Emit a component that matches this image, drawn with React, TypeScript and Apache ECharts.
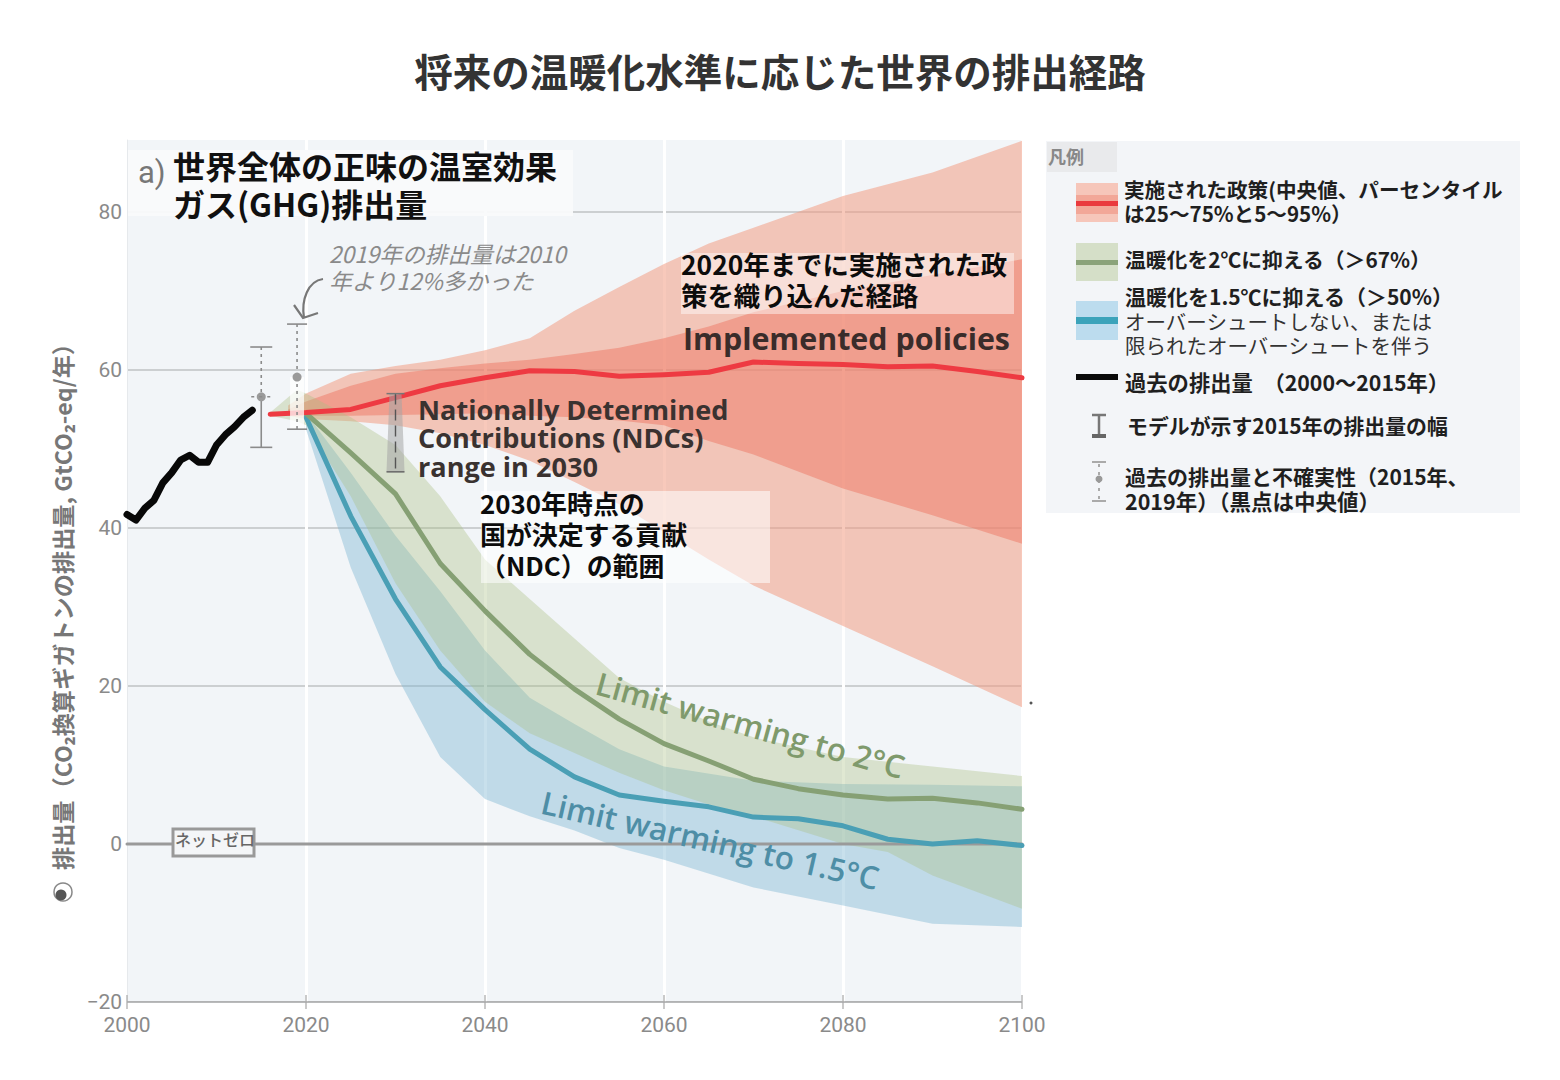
import React, { useEffect, useRef } from "react";
import * as echarts from "echarts";

const JP = '"Noto Sans CJK JP", "Noto Sans", sans-serif';
const EN = '"Open Sans", "Noto Sans", sans-serif';

// ---------- data ----------
const historyYears = [2000, 2001, 2002, 2003, 2004, 2005, 2006, 2007, 2008, 2009, 2010, 2011, 2012, 2013, 2014];
const historyValues = [41.7, 41.0, 42.5, 43.5, 45.7, 47.0, 48.6, 49.2, 48.3, 48.3, 50.5, 51.8, 52.8, 54.0, 54.9];

const policyYears = [2018, 2020, 2025, 2030, 2035, 2040, 2045, 2050, 2055, 2060, 2065, 2070, 2080, 2090, 2100];
const policyOuterHigh = [55.5, 57, 59.5, 60.5, 61.3, 62.5, 64, 67.5, 70.5, 73.4, 76, 78, 82, 85, 89];
const policyOuterLow = [54.2, 53.8, 53.5, 53, 52, 50.5, 48.5, 45.8, 43, 39.5, 36, 32.7, 27.6, 22.5, 17.3];
const policyInnerHigh = [55, 56, 58, 59.5, 60.2, 60.8, 61.3, 62, 62.8, 64, 65.5, 67.3, 70, 72, 74];
const policyInnerLow = [54.4, 54.2, 54.2, 54.3, 54.4, 54.5, 54.2, 54, 53.6, 53, 51, 49.3, 45, 41.6, 38];
const policyMedianYears = [2016, 2020, 2025, 2030, 2035, 2040, 2045, 2050, 2055, 2060, 2065, 2070, 2075, 2080, 2085, 2090, 2095, 2100];
const policyMedian = [54.4, 54.6, 55, 56.5, 58, 59, 59.9, 59.8, 59.2, 59.4, 59.7, 61, 60.8, 60.7, 60.4, 60.5, 59.8, 59];

const greenYears = [2016, 2019, 2020, 2025, 2030, 2035, 2040, 2045, 2050, 2055, 2060, 2065, 2070, 2080, 2085, 2090, 2100];
const greenHigh = [54.6, 57.5, 57, 54, 50.5, 44, 36, 31, 26, 21, 18, 15.5, 13.5, 11, 10.4, 9.8, 8.6];
const greenLow = [54.2, 53.5, 53, 44, 33, 24.5, 18, 14, 11.5, 9, 6.8, 5, 3.5, 0, -1, -4, -8.2];
const greenMedianYears = [2020, 2025, 2030, 2035, 2040, 2045, 2050, 2055, 2060, 2065, 2070, 2075, 2080, 2085, 2090, 2095, 2100];
const greenMedian = [54.5, 49.5, 44.3, 35.5, 29.5, 24, 19.6, 15.8, 12.7, 10.5, 8.2, 7, 6.2, 5.7, 5.8, 5.2, 4.4];

const blueYears = [2020, 2025, 2030, 2035, 2040, 2045, 2050, 2055, 2060, 2070, 2080, 2090, 2100];
const blueHigh = [54.5, 47, 39, 32, 24.5, 18.5, 15.2, 12, 9.8, 8, 7.6, 7.5, 7.3];
const blueLow = [52.5, 35, 21.5, 11, 5.7, 3.5, 1.7, -0.5, -2, -5.5, -7.8, -10.1, -10.5];
const blueMedianYears = [2020, 2025, 2030, 2035, 2040, 2045, 2050, 2055, 2060, 2065, 2070, 2075, 2080, 2085, 2090, 2095, 2100];
const blueMedian = [54, 41.5, 31, 22.4, 17, 12, 8.5, 6.2, 5.4, 4.7, 3.4, 3.2, 2.3, 0.6, 0, 0.4, -0.2];

const netZeroYears = [2000, 2100];
const netZeroValues = [0, 0];

// [year, low, mid, high]
const whisker2015 = [2015, 50.2, 56.6, 62.9];
const whisker2019 = [2019, 52.5, 59.1, 65.8];
const ndcRange = [2030, 47.1, 57];

const titleText = "将来の温暖化水準に応じた世界の排出経路";
const yAxisTitle = "排出量（CO₂換算ギガトンの排出量, GtCO₂-eq/年）";
const panelTitle = ["世界全体の正味の温室効果", "ガス(GHG)排出量"];
const noteLines = ["2019年の排出量は2010", "年より12%多かった"];
const policyNote = ["2020年までに実施された政", "策を織り込んだ経路"];
const ndcEnglish = ["Nationally Determined", "Contributions (NDCs)", "range in 2030"];
const ndcNote = ["2030年時点の", "国が決定する貢献", "（NDC）の範囲"];

// ---------- helpers ----------
const zip = (xs: number[], ys: number[]) => xs.map((x, i) => [x, ys[i]]);

function band(name: string, years: number[], low: number[], high: number[], fill: string, z: number) {
  return {
    type: "custom",
    name,
    z,
    silent: true,
    coordinateSystem: "cartesian2d",
    data: years.map((y, i) => [y, low[i], high[i]]),
    encode: { x: 0, y: [1, 2] },
    renderItem: (params: any, api: any) => {
      if (params.dataIndex !== 0) return null;
      const top = years.map((y, i) => api.coord([y, high[i]]));
      const bottom = years.map((y, i) => api.coord([y, low[i]])).reverse();
      return { type: "polygon", shape: { points: [...top, ...bottom] }, style: { fill } };
    },
  };
}

function line(name: string, xs: number[], ys: number[], color: string, width: number, z: number) {
  return {
    type: "line",
    name,
    z,
    silent: true,
    showSymbol: false,
    data: zip(xs, ys),
    lineStyle: { color, width, cap: "round", join: "round" },
    itemStyle: { color },
  };
}

function whiskers() {
  const c = "#8b8b8b";
  return {
    type: "custom",
    name: "whiskers",
    z: 6,
    silent: true,
    coordinateSystem: "cartesian2d",
    data: [whisker2015, whisker2019],
    encode: { x: 0, y: [1, 2, 3] },
    renderItem: (params: any, api: any) => {
      const yr = api.value(0);
      const [x, low] = api.coord([yr, api.value(1)]);
      const [, mid] = api.coord([yr, api.value(2)]);
      const [, high] = api.coord([yr, api.value(3)]);
      const is2015 = params.dataIndex === 0;
      const dash = { stroke: c, lineWidth: 1.6, lineDash: [3, 4] };
      const solid = { stroke: c, lineWidth: 1.6 };
      const capW = is2015 ? 11 : 10;
      const children: any[] = [];
      if (!is2015) {
        children.push({ type: "rect", shape: { x: x - 7, y: mid, width: 14, height: low - mid }, style: { fill: "rgba(255,255,255,0.75)" } });
      }
      children.push(
        { type: "line", shape: { x1: x, y1: high, x2: x, y2: mid }, style: dash },
        { type: "line", shape: { x1: x, y1: mid, x2: x, y2: low }, style: is2015 ? solid : dash },
        { type: "line", shape: { x1: x - capW, y1: high, x2: x + capW, y2: high }, style: solid },
        { type: "line", shape: { x1: x - capW, y1: low, x2: x + capW, y2: low }, style: solid },
        { type: "circle", shape: { cx: x, cy: mid, r: 4.5 }, style: { fill: "#9a9a9a" } },
      );
      if (is2015) {
        children.push({ type: "line", shape: { x1: x - 10, y1: mid, x2: x + 10, y2: mid }, style: { stroke: c, lineWidth: 1.6, lineDash: [3, 5] } });
      }
      return { type: "group", children };
    },
  };
}

function ndcBar() {
  return {
    type: "custom",
    name: "NDC range",
    z: 6,
    silent: true,
    coordinateSystem: "cartesian2d",
    data: [ndcRange],
    encode: { x: 0, y: [1, 2] },
    renderItem: (_: any, api: any) => {
      const yr = api.value(0);
      const [x, low] = api.coord([yr, api.value(1)]);
      const [, high] = api.coord([yr, api.value(2)]);
      return {
        type: "group",
        children: [
          { type: "polygon", shape: { points: [[x - 6, high], [x + 6, high], [x + 9, low], [x - 9, low]] }, style: { fill: "rgba(165,165,165,0.55)" } },
          { type: "line", shape: { x1: x, y1: high, x2: x, y2: low }, style: { stroke: "#555", lineWidth: 1.4, lineDash: [11, 5] } },
          { type: "line", shape: { x1: x - 9, y1: high, x2: x + 9, y2: high }, style: { stroke: "#777", lineWidth: 1.5 } },
          { type: "line", shape: { x1: x - 9, y1: low, x2: x + 9, y2: low }, style: { stroke: "#666", lineWidth: 1.5 } },
        ],
      };
    },
  };
}

function txt(x: number, y: number, text: string, size: number, fill: string, weight: any = "bold", extra: any = {}, family = JP) {
  const { rotation, z, ...style } = extra;
  return {
    type: "text",
    x,
    y,
    rotation: rotation ?? 0,
    z: z ?? 30,
    silent: true,
    style: { text, fontSize: size, fontFamily: family, fontWeight: weight, fill, textVerticalAlign: "middle", verticalAlign: "middle", textAlign: "left", align: "left", ...style },
  };
}
const box = (x: number, y: number, w: number, h: number, fill: string, z = 20, extra: any = {}) => ({
  type: "rect", z, silent: true, shape: { x, y, width: w, height: h }, style: { fill, ...extra },
});
const seg = (x1: number, y1: number, x2: number, y2: number, stroke: string, lineWidth: number, z = 30, extra: any = {}) => ({
  type: "line", z, silent: true, shape: { x1, y1, x2, y2 }, style: { stroke, lineWidth, ...extra },
});

function graphics() {
  const g: any[] = [];
  // title
  g.push({ ...txt(780, 70, titleText, 38.5, "#333333", "bold", { textAlign: "center", align: "center" }) });
  // panel title
  g.push(box(128, 150, 445, 66, "rgba(249,250,251,0.96)", 18));
  g.push(txt(138, 172, "a)", 31, "#777777", "normal", {}, '"Roboto", sans-serif'));
  panelTitle.forEach((t, i) => g.push(txt(173, 165 + i * 38, t, 32, "#111111")));
  // 2019 note + arrow
  noteLines.forEach((t, i) => g.push(txt(329, 253 + i * 27, t, 22.7, "#8a8a8a", "normal", { fontStyle: "italic" })));
  g.push({ type: "bezierCurve", z: 30, silent: true, shape: { x1: 323, y1: 279, x2: 304, y2: 318, cpx1: 308, cpy1: 281, cpx2: 301, cpy2: 300 }, style: { stroke: "#777", lineWidth: 2.2, fill: "none" } });
  g.push({ type: "polyline", z: 30, silent: true, shape: { points: [[294, 305], [303, 318], [318, 313]] }, style: { stroke: "#777", lineWidth: 2.2, fill: "none" } });
  // implemented policies
  g.push(box(681, 253, 333, 61, "rgba(255,255,255,0.45)"));
  policyNote.forEach((t, i) => g.push(txt(681, 263 + i * 31, t, 26.4, "#0c0c0c")));
  g.push(txt(683, 338, "Implemented policies", 30.4, "#3a2c2a", "bold", {}, EN));
  // NDC english
  ndcEnglish.forEach((t, i) => g.push(txt(418, 409 + i * 28.5, t, 27.1, "#3a3230", "bold", {}, EN)));
  // NDC note
  g.push(box(481, 491, 289, 92, "rgba(255,255,255,0.55)"));
  ndcNote.forEach((t, i) => g.push(txt(480, 502 + i * 31, t, 25.9, "#0c0c0c")));
  // path labels
  g.push(txt(597, 682, "Limit warming to 2°C", 31.5, "#7f9a6c", "600", { rotation: -0.27 }, EN));
  g.push(txt(542, 801, "Limit warming to 1.5°C", 31.5, "#4e8ea6", "600", { rotation: -0.225 }, EN));
  // net-zero tag
  g.push(box(173, 829, 81, 27, "#f4f6f8", 30, { stroke: "#999999", lineWidth: 3 }));
  g.push(txt(175, 839, "ネットゼロ", 16, "#666666", "500", { z: 31 }));
  // y axis title
  g.push(txt(62, 601, yAxisTitle, 23.2, "#777777", "bold", { rotation: Math.PI / 2, textAlign: "center", align: "center" }));
  g.push({ type: "circle", z: 30, silent: true, shape: { cx: 63, cy: 892, r: 9 }, style: { fill: "#ffffff", stroke: "#888", lineWidth: 1.5 } });
  g.push({ type: "circle", z: 31, silent: true, shape: { cx: 61, cy: 895, r: 5.5 }, style: { fill: "#555" } });
  g.push({ type: "circle", z: 30, silent: true, shape: { cx: 1031, cy: 703, r: 1.5 }, style: { fill: "#555" } });

  // legend panel
  g.push(box(1046, 141, 474, 372, "#f3f5f8", 5));
  g.push(box(1047, 142, 70, 30, "#e9eaec", 6));
  g.push(txt(1048, 156, "凡例", 18, "#888888", "bold"));
  // swatches
  g.push(box(1076, 183, 42, 39, "#f6c6ba", 10));
  g.push(box(1076, 195, 42, 19, "#f2a798", 11));
  g.push(box(1076, 201, 42, 5, "#ea3a3e", 12));
  g.push(box(1076, 243, 42, 38, "#d5dfc8", 10));
  g.push(box(1076, 260, 42, 5, "#8ba37a", 12));
  g.push(box(1076, 301, 42, 39, "#bcdcee", 10));
  g.push(box(1076, 317, 42, 7, "#3ba3ba", 12));
  g.push(box(1076, 374, 42, 6, "#0a0a0a", 12));
  // model whisker key
  g.push(seg(1099, 415, 1099, 435, "#777", 2.5));
  g.push(seg(1092, 415, 1106, 415, "#777", 2.5));
  g.push(seg(1092, 436, 1106, 436, "#666", 4));
  // uncertainty key
  g.push(seg(1092, 462, 1106, 462, "#aaa", 2));
  g.push(seg(1092, 501, 1106, 501, "#aaa", 2));
  g.push(seg(1099, 464, 1099, 499, "#aaa", 2, 30, { lineDash: [3, 5] }));
  g.push({ type: "circle", z: 31, silent: true, shape: { cx: 1099, cy: 479, r: 3.5 }, style: { fill: "#999" } });
  // legend text
  const L = "#1f1f1f";
  g.push(txt(1124, 189, "実施された政策(中央値、パーセンタイル", 20.6, L));
  g.push(txt(1124, 213, "は25～75%と5～95%）", 20.6, L));
  g.push(txt(1125, 259, "温暖化を2℃に抑える（＞67%）", 20.8, L));
  g.push(txt(1125, 296, "温暖化を1.5℃に抑える（＞50%）", 21, L));
  g.push(txt(1125, 321, "オーバーシュートしない、または", 20.5, "#333333", "normal"));
  g.push(txt(1125, 345, "限られたオーバーシュートを伴う", 20.5, "#333333", "normal"));
  g.push(txt(1125, 381, "過去の排出量　（2000～2015年）", 21.3, L));
  g.push(txt(1127, 425, "モデルが示す2015年の排出量の幅", 20.9, L));
  g.push(txt(1125, 476, "過去の排出量と不確実性（2015年、", 21, L));
  g.push(txt(1125, 500, "2019年）（黒点は中央値）", 21.5, L));
  return g;
}

export default function App() {
  const ref = useRef<HTMLDivElement>(null);
  useEffect(() => {
    document.body.style.margin = "0";
    const chart = echarts.init(ref.current!, null, { renderer: "svg" });
    chart.setOption({
      animation: false,
      backgroundColor: "#ffffff",
      grid: { show: true, left: 127, right: 538, top: 140, bottom: 78, backgroundColor: "#f2f5f8", borderWidth: 0 },
      xAxis: {
        type: "value",
        min: 2000,
        max: 2100,
        interval: 20,
        axisLine: { show: false },
        axisTick: { show: false },
        axisLabel: { color: "#8a8a8a", fontSize: 21, fontFamily: "Roboto", margin: 12, formatter: (v: number) => String(v) },
        splitLine: { show: true, showMinLine: false, lineStyle: { color: "#ffffff", width: 3 } },
      },
      yAxis: {
        type: "value",
        min: -20,
        max: 89.1,
        interval: 20,
        axisLine: { show: true, onZero: false, lineStyle: { color: "#e6e9ec", width: 1 } },
        axisTick: { show: false },
        axisLabel: {
          color: "#8a8a8a", fontSize: 21, fontFamily: "Roboto", margin: 5, showMaxLabel: false,
          formatter: (v: number) => (v < 0 ? "−" + Math.abs(v) : String(v)),
        },
        splitLine: { show: true, showMaxLine: false, lineStyle: { color: "#bfc2c5", width: 1.5 } },
      },
      series: [
        band("Policies 5–95%", policyYears, policyOuterLow, policyOuterHigh, "rgba(242,157,131,0.55)", 2),
        band("Policies 25–75%", policyYears, policyInnerLow, policyInnerHigh, "rgba(238,120,100,0.5)", 2),
        band("1.5°C range", blueYears, blueLow, blueHigh, "rgba(125,180,210,0.42)", 2),
        band("2°C range", greenYears, greenLow, greenHigh, "rgba(170,190,130,0.36)", 3),
        line("Net zero", netZeroYears, netZeroValues, "#9a9a9a", 3, 4),
        line("Limit warming to 1.5°C", blueMedianYears, blueMedian, "#4a9fb5", 5, 5),
        line("Limit warming to 2°C", greenMedianYears, greenMedian, "#86a074", 5, 5),
        line("Implemented policies", policyMedianYears, policyMedian, "#ee3a42", 5, 5),
        line("Historical", historyYears, historyValues, "#080808", 7, 5),
        {
          type: "line", name: "Axis floor", z: 4, silent: true, showSymbol: false,
          data: [[2000, -20], [2100, -20]], lineStyle: { color: "#a8a8a8", width: 1.5 },
        },
        {
          type: "scatter", name: "Axis ticks", z: 4, silent: true,
          data: [2000, 2020, 2040, 2060, 2080, 2100].map((y) => [y, -20]),
          symbol: "rect", symbolSize: [1.5, 14], itemStyle: { color: "#a8a8a8" },
        },
        whiskers(),
        ndcBar(),
      ],
      graphic: { elements: graphics() },
    });
    return () => chart.dispose();
  }, []);
  return <div ref={ref} style={{ position: "absolute", left: 0, top: 0, width: 1560, height: 1080 }} />;
}
